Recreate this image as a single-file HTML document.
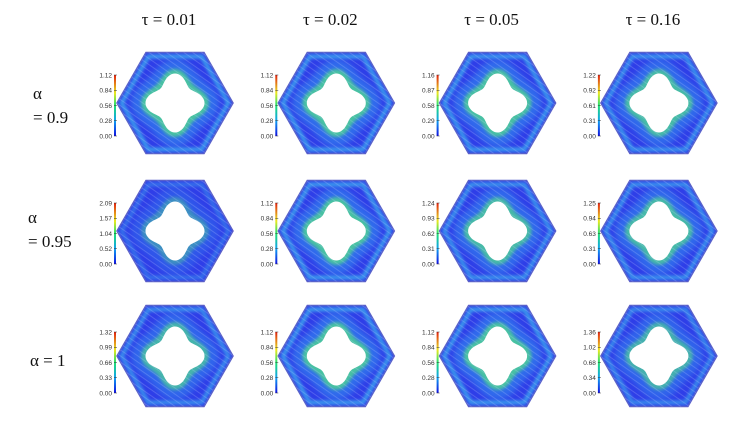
<!DOCTYPE html>
<html><head><meta charset="utf-8">
<style>
html,body{margin:0;padding:0;background:#fff;}
svg{display:block;}
.hdr{font-family:"Liberation Serif",serif;font-size:17px;fill:#111;}
.cb{font-family:"Liberation Sans",sans-serif;font-size:6.5px;fill:#333;}
</style></head>
<body>
<svg id="fig" width="756" height="426" viewBox="0 0 756 426" xmlns="http://www.w3.org/2000/svg">
<defs>
<linearGradient id="cbar" x1="0" y1="1" x2="0" y2="0">
<stop offset="0" stop-color="#1010e0"/><stop offset="0.25" stop-color="#10a0f0"/>
<stop offset="0.5" stop-color="#20e070"/><stop offset="0.7" stop-color="#e8e820"/>
<stop offset="1" stop-color="#e02010"/></linearGradient>
<filter id="bl" x="-30%" y="-30%" width="160%" height="160%"><feGaussianBlur stdDeviation="3"/></filter>
<filter id="bl2" x="-30%" y="-30%" width="160%" height="160%"><feGaussianBlur stdDeviation="1.5"/></filter>
<pattern id="streak" width="5" height="5" patternUnits="userSpaceOnUse" patternTransform="rotate(35)">
<line x1="0" y1="2.5" x2="5" y2="2.5" stroke="#c8d4ff" stroke-width="0.5" opacity="0.45"/></pattern>
</defs>
</svg>
<script>
const taus = ["τ = 0.01","τ = 0.02","τ = 0.05","τ = 0.16"];
const alphaRows = [["α","= 0.9"],["α","= 0.95"],["α  = 1"]];
const maxRow1 = [1.12,1.12,1.16,1.22];
const maxRow2 = [2.09,1.12,1.24,1.25];
const maxRow3 = [1.32,1.12,1.12,1.38];
const ticksRow1 = [["0.00","0.28","0.56","0.84","1.12"],["0.00","0.28","0.56","0.84","1.12"],["0.00","0.29","0.58","0.87","1.16"],["0.00","0.31","0.61","0.92","1.22"]];
const ticksRow2 = [["0.00","0.52","1.04","1.57","2.09"],["0.00","0.28","0.56","0.84","1.12"],["0.00","0.31","0.62","0.93","1.24"],["0.00","0.31","0.63","0.94","1.25"]];
const ticksRow3 = [["0.00","0.33","0.66","0.99","1.32"],["0.00","0.28","0.56","0.84","1.12"],["0.00","0.28","0.56","0.84","1.12"],["0.00","0.34","0.68","1.02","1.36"]];
const tickFractions = [0,0.25,0.5,0.75,1];

const maxes=[maxRow1,maxRow2,maxRow3];
const ticks=[ticksRow1,ticksRow2,ticksRow3];
const svg=document.getElementById('fig');
const NS="http://www.w3.org/2000/svg";
function mk(tag,attrs,parent){const e=document.createElementNS(NS,tag);for(const k in attrs)e.setAttribute(k,attrs[k]);(parent||svg).appendChild(e);return e;}
const colX=i=>175+i*161.3;
const rowY=j=>[103,231,356][j];
const cbTop=j=>[75,203,332][j];
taus.forEach((t,i)=>{const e=mk('text',{x:colX(i)-6,y:25,'text-anchor':'middle',class:'hdr'});e.textContent=t;

});
alphaRows.forEach((r,j)=>{
 const g=mk('g',{});
 
 
 if(r.length===2){
  const x=j===0?33:28;
  const a=mk('text',{x:x,y:rowY(j)-4+(j===1?-4:0),class:'hdr'},g);a.textContent=r[0];
  const b=mk('text',{x:x,y:rowY(j)+20+(j===1?-4:0),class:'hdr'},g);b.textContent=r[1];
 } else {const a=mk('text',{x:30,y:rowY(j)+10,class:'hdr','xml:space':'preserve'},g);a.textContent=r[0];}
});
function hexPts(cx,cy,s){const rx=58*s,ry=50.5*s;return [[cx-rx,cy],[cx-rx/2,cy-ry],[cx+rx/2,cy-ry],[cx+rx,cy],[cx+rx/2,cy+ry],[cx-rx/2,cy+ry]].map(p=>p.join(',')).join(' ');}
function holePath(cx,cy,R,A){let d='';for(let k=0;k<=120;k++){const th=k/120*2*Math.PI;const r=R+A*Math.cos(4*th);d+=(k?'L':'M')+(cx+r*Math.cos(th)).toFixed(1)+','+(cy+r*Math.sin(th)).toFixed(1);}return d+'Z';}
for(let j=0;j<3;j++)for(let i=0;i<4;i++){
 const cx=colX(i),cy=rowY(j),m=maxes[j][i];
 const g=mk('g',{});
 
 
 const intensity=Math.min(1,1.15/m);
 mk('polygon',{points:hexPts(cx,cy,1),fill:'#2f3ee8',stroke:'#5a5ac8','stroke-width':1.5},g);
 mk('polygon',{points:hexPts(cx,cy,0.92),fill:'none',stroke:'#40c8f0','stroke-width':4,opacity:0.7*intensity,filter:'url(#bl2)'},g);
 mk('path',{d:holePath(cx,cy,40,4),fill:'#3090f0',opacity:0.55*intensity,filter:'url(#bl)'},g);
 mk('path',{d:holePath(cx,cy,30,4),fill:'#50d890',opacity:0.8*intensity,filter:'url(#bl2)'},g);
 mk('polygon',{points:hexPts(cx,cy,1),fill:'url(#streak)'},g);
 mk('path',{d:holePath(cx,cy,25,4.5),fill:'#ffffff'},g);
 const top=cbTop(j),h=61,bx=cx-61;
 const cb=mk('g',{});
 
 
 mk('rect',{x:bx,y:top,width:2,height:h,fill:'url(#cbar)'},cb);
 tickFractions.forEach((f,k)=>{
  const y=top+h-f*h;
  mk('line',{x1:bx,x2:bx+3,y1:y,y2:y,stroke:'#333','stroke-width':0.5},cb);
  const t=mk('text',{x:bx-2,y:y+2.3,'text-anchor':'end',class:'cb'},cb);t.textContent=ticks[j][i][k];
 });
}
</script>
</body></html>
